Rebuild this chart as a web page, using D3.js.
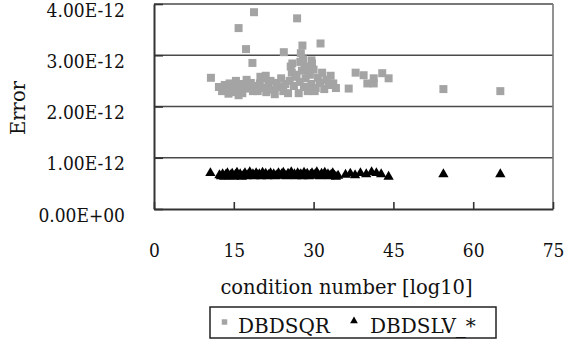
<!DOCTYPE html>
<html>
<head>
<meta charset="utf-8">
<script src="https://cdn.jsdelivr.net/npm/d3@7"></script>
<style>
  body { margin: 0; background: #fff; }
  text { font-family: "DejaVu Serif", serif; fill: #111; }
  .tick text { font-family: "DejaVu Serif Condensed", "DejaVu Serif", serif; font-size: 19px; }
</style>
</head>
<body>
<svg id="chart"></svg>
<script>
// values, error in units of 1e-12
var xTicks = [0, 15, 30, 45, 60, 75];
var yTicks = [0, 1, 2, 3, 4];
var yTickLabels = ["0.00E+00", "1.00E-12", "2.00E-12", "3.00E-12", "4.00E-12"];
var seriesNames = ["DBDSQR", "DBDSLV_*"];

// [condition number, error]
var dbdsqr = [
  [10.7,2.56],[15.9,3.53],[17.3,3.12],[18.5,2.85],[18.8,3.84],[24.4,3.06],[26.9,3.72],
  [27.6,3.04],[27.9,3.19],[29.7,2.84],[31.3,3.23],[25.7,2.78],[27.5,2.87],[29.6,2.90],
  [12.2,2.38],[12.8,2.30],[13.3,2.42],[13.8,2.33],[14.2,2.45],[14.6,2.28],[15.0,2.38],
  [15.4,2.50],[15.8,2.32],[16.2,2.44],[16.6,2.26],[17.0,2.40],[17.4,2.52],[17.8,2.35],
  [18.2,2.46],[18.6,2.30],[19.0,2.40],[15.9,2.22],[14.0,2.25],
  [19.5,2.30],[19.9,2.45],[20.3,2.36],[20.7,2.55],[21.1,2.28],[21.5,2.42],[21.9,2.50],
  [22.3,2.33],[22.7,2.24],[23.1,2.46],[23.5,2.38],[23.9,2.55],[24.3,2.30],[24.7,2.44],
  [20.0,2.58],[21.0,2.60],
  [25.2,2.26],[25.5,2.50],[25.9,2.66],[26.3,2.40],[26.6,2.58],[27.2,2.26],[27.4,2.48],
  [27.8,2.70],[28.2,2.38],[28.5,2.55],[28.9,2.30],[29.3,2.62],[29.6,2.44],[30.0,2.72],
  [30.4,2.36],[30.8,2.56],[31.2,2.46],[31.6,2.66],[32.0,2.34],[32.4,2.52],[32.8,2.42],
  [33.2,2.60],[33.7,2.45],[34.2,2.36],[26.0,2.84],[28.0,2.92],[30.2,2.30],[28.3,2.78],
  [26.8,2.62],[29.0,2.70],
  [36.6,2.35],[37.9,2.66],[39.4,2.61],[40.1,2.45],[41.3,2.55],[41.3,2.45],[42.9,2.65],
  [44.1,2.55],[54.4,2.34],[65.1,2.30]
];

var dbdslv = [
  [10.6,0.70],
  [12.3,0.66],[12.6,0.64],[12.9,0.68],[13.2,0.63],[13.5,0.67],[13.8,0.70],[14.1,0.64],
  [14.4,0.66],[14.7,0.69],[15.0,0.63],[15.3,0.67],[15.6,0.71],[15.9,0.65],[16.2,0.68],
  [16.5,0.63],[16.8,0.66],[17.1,0.70],[17.4,0.64],[17.7,0.67],[18.0,0.72],[18.3,0.65],
  [18.6,0.68],[18.9,0.64],[19.2,0.70],[19.5,0.66],[19.8,0.68],[20.1,0.64],[20.4,0.71],
  [20.7,0.66],[21.0,0.69],[21.3,0.64],[21.6,0.67],[21.9,0.70],[22.2,0.65],[22.5,0.68],
  [22.8,0.64],[23.1,0.66],[23.4,0.70],[23.7,0.65],[24.0,0.68],[24.3,0.71],[24.6,0.66],
  [24.9,0.64],[25.2,0.69],[25.5,0.66],[25.8,0.72],[26.1,0.65],[26.4,0.68],[26.7,0.64],
  [27.0,0.70],[27.3,0.66],[27.6,0.68],[27.9,0.64],[28.2,0.71],[28.5,0.66],[28.8,0.69],
  [29.1,0.64],[29.4,0.67],[29.7,0.70],[30.0,0.65],[30.3,0.68],[30.6,0.72],[30.9,0.66],
  [31.2,0.64],[31.5,0.69],[31.8,0.66],[32.1,0.71],[32.4,0.65],[32.7,0.68],[33.0,0.64],
  [33.3,0.67],[33.6,0.70],[33.9,0.65],[34.2,0.63],[34.6,0.65],
  [36.0,0.67],[36.9,0.69],[37.8,0.66],[38.8,0.70],[39.9,0.68],[40.9,0.72],[41.8,0.70],
  [42.7,0.68],[44.1,0.63],
  [54.4,0.68],[65.1,0.68]
];

var width = 570, height = 348;
var plotLeft = 154, plotRight = 553, plotTop = 4, plotBottom = 209;

var svg = d3.select("#chart")
    .attr("width", width)
    .attr("height", height);

var x = d3.scaleLinear().domain([0, 75]).range([plotLeft, plotRight]);
var y = d3.scaleLinear().domain([0, 4]).range([plotBottom, plotTop]);

// gridlines
svg.append("g")
  .selectAll("line")
  .data(yTicks.slice(1))
  .enter().append("line")
    .attr("x1", plotLeft).attr("x2", plotRight)
    .attr("y1", function(d) { return y(d); })
    .attr("y2", function(d) { return y(d); })
    .attr("stroke", "#4a4a4a")
    .attr("stroke-width", 1.6);

// right border
svg.append("line")
  .attr("x1", plotRight).attr("x2", plotRight)
  .attr("y1", plotTop).attr("y2", plotBottom)
  .attr("stroke", "#777")
  .attr("stroke-width", 1.6);

// points
svg.append("g")
  .selectAll("path")
  .data(dbdsqr)
  .enter().append("path")
    .attr("transform", function(d) { return "translate(" + x(d[0]) + "," + y(d[1]) + ")"; })
    .attr("d", d3.symbol().type(d3.symbolSquare).size(64))
    .attr("fill", "#a4a4a4");

svg.append("g")
  .selectAll("path")
  .data(dbdslv)
  .enter().append("path")
    .attr("transform", function(d) { return "translate(" + x(d[0]) + "," + y(d[1]) + ")"; })
    .attr("d", d3.symbol().type(d3.symbolTriangle).size(46))
    .attr("fill", "#000");

// axes
var yAxis = svg.append("g")
  .attr("transform", "translate(" + plotLeft + ",0)")
  .call(d3.axisLeft(y)
    .tickValues(yTicks)
    .tickFormat(function(d, i) { return yTickLabels[i]; })
    .tickSizeInner(-9)
    .tickSizeOuter(0)
    .tickPadding(29));

yAxis.selectAll("text").attr("y", 6);

var xAxis = svg.append("g")
  .attr("transform", "translate(0," + plotBottom + ")")
  .call(d3.axisBottom(x)
    .tickValues(xTicks)
    .tickSizeInner(-7)
    .tickSizeOuter(0)
    .tickPadding(35));

svg.selectAll(".domain").attr("stroke", "#333").attr("stroke-width", 2);
svg.selectAll(".tick line").attr("stroke", "#333").attr("stroke-width", 1.6);
svg.selectAll(".tick text").attr("fill", "#111");

// axis titles
svg.append("text")
  .attr("x", 346.5)
  .attr("y", 294)
  .attr("text-anchor", "middle")
  .style("font-size", "19.5px")
  .text("condition number [log10]");

svg.append("text")
  .attr("transform", "translate(25,108) rotate(-90)")
  .attr("text-anchor", "middle")
  .style("font-size", "19.5px")
  .text("Error");

// legend
var legend = svg.append("g");

legend.append("rect")
  .attr("x", 210).attr("y", 307)
  .attr("width", 286).attr("height", 31)
  .attr("fill", "none")
  .attr("stroke", "#222")
  .attr("stroke-width", 1.5);

legend.append("path")
  .attr("transform", "translate(224.5,322)")
  .attr("d", d3.symbol().type(d3.symbolSquare).size(30))
  .attr("fill", "#a4a4a4");

legend.append("path")
  .attr("transform", "translate(354,321)")
  .attr("d", d3.symbol().type(d3.symbolTriangle).size(26))
  .attr("fill", "#000");

legend.append("text")
  .attr("x", 238).attr("y", 333)
  .style("font-size", "20px")
  .text(seriesNames[0]);

legend.append("text")
  .attr("x", 370).attr("y", 333)
  .style("font-size", "20px")
  .text(seriesNames[1]);
</script>
</body>
</html>
